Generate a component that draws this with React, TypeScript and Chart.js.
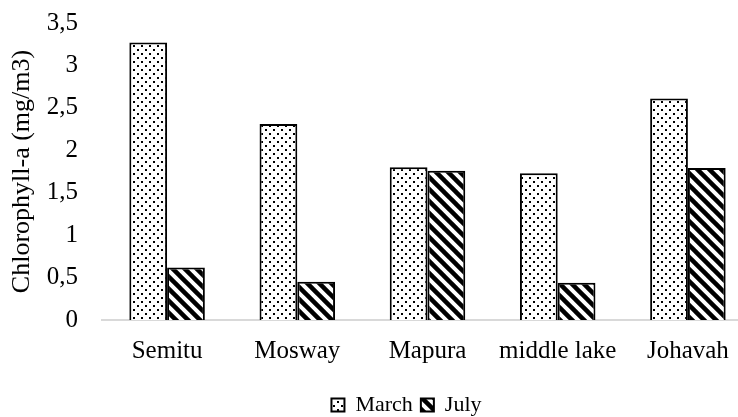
import React, { useEffect, useRef } from "react";
import { Chart, registerables } from "chart.js";

Chart.register(...registerables);

const categories = ["Semitu", "Mosway", "Mapura", "middle lake", "Johavah"];
const marchValues = [3.27, 2.31, 1.8, 1.73, 2.61];
const julyValues = [0.62, 0.45, 1.76, 0.44, 1.79];
const seriesNames = ["March", "July"];
const yTicksMin = 0;
const yTicksMax = 3.5;
const yTickStep = 0.5;
const yTitle = "Chlorophyll-a (mg/m3)";

const FONT = "'Liberation Serif', 'Times New Roman', serif";

function makeDots(ctx: CanvasRenderingContext2D) {
  const t = document.createElement("canvas");
  t.width = 8;
  t.height = 8;
  const c = t.getContext("2d")!;
  c.fillStyle = "#ffffff";
  c.fillRect(0, 0, 8, 8);
  c.fillStyle = "#000000";
  c.fillRect(1, 1, 2, 2);
  c.fillRect(5, 5, 2, 2);
  return ctx.createPattern(t, "repeat")!;
}

function makeStripes(ctx: CanvasRenderingContext2D) {
  const s = 12;
  const t = document.createElement("canvas");
  t.width = s;
  t.height = s;
  const c = t.getContext("2d")!;
  c.fillStyle = "#ffffff";
  c.fillRect(0, 0, s, s);
  c.strokeStyle = "#000000";
  c.lineWidth = 4.5;
  for (const off of [-s, 0, s]) {
    c.beginPath();
    c.moveTo(-2 + off, -2);
    c.lineTo(s + 2 + off, s + 2);
    c.stroke();
  }
  return ctx.createPattern(t, "repeat")!;
}

const PLOT_LEFT = 102;
const LEGEND_SHIFT = 30;

const legendShift = {
  id: "legendShift",
  afterLayout(chart: any) {
    const l = chart.legend;
    if (l) {
      l.left += LEGEND_SHIFT;
      l.right += LEGEND_SHIFT;
    }
  },
};

export default function App() {
  const ref = useRef<HTMLCanvasElement | null>(null);

  useEffect(() => {
    const canvas = ref.current!;
    const ctx = canvas.getContext("2d")!;
    const dots = makeDots(ctx);
    const stripes = makeStripes(ctx);
    const chart = new Chart(canvas, {
      type: "bar",
      data: {
        labels: categories,
        datasets: [
          {
            label: seriesNames[0],
            data: marchValues,
            backgroundColor: dots,
            borderColor: "#000000",
            borderWidth: 2,
          },
          {
            label: seriesNames[1],
            data: julyValues,
            backgroundColor: stripes,
            borderColor: "#000000",
            borderWidth: 2,
          },
        ],
      },
      plugins: [legendShift],
      options: {
        responsive: false,
        animation: false,
        devicePixelRatio: 1,
        layout: { padding: { left: 0, right: 7, top: 23, bottom: 0 } },
        datasets: {
          bar: { categoryPercentage: 0.58, barPercentage: 1 },
        },
        plugins: {
          tooltip: { enabled: false },
          legend: {
            position: "bottom",
            labels: {
              color: "#000000",
              font: { family: FONT, size: 22 },
              boxWidth: 13,
              boxHeight: 13,
              padding: 8,
            },
          },
        },
        scales: {
          x: {
            grid: { display: false, drawTicks: false },
            border: { display: true, color: "#d9d9d9", width: 2 },
            ticks: {
              color: "#000000",
              font: { family: FONT, size: 25 },
              padding: 16,
              maxRotation: 0,
              autoSkip: false,
            },
            afterFit: (scale: any) => {
              scale.height = 66;
            },
          },
          y: {
            min: yTicksMin,
            max: yTicksMax,
            grid: { display: false, drawTicks: true, tickLength: 24 },
            border: { display: false },
            ticks: {
              stepSize: yTickStep,
              color: "#000000",
              font: { family: FONT, size: 25 },
              padding: 0,
              callback: (v: any) => String(v).replace(".", ","),
            },
            title: {
              display: true,
              text: yTitle,
              color: "#000000",
              font: { family: FONT, size: 26 },
              padding: { top: 7, bottom: 4 },
            },
            afterFit: (scale: any) => {
              scale.width = PLOT_LEFT;
            },
          },
        },
      },
    });
    return () => chart.destroy();
  }, []);

  return (
    <div
      style={{
        position: "fixed",
        left: 0,
        top: 0,
        width: 738,
        height: 417,
        overflow: "hidden",
        background: "#ffffff",
      }}
    >
      <canvas ref={ref} width={760} height={426} style={{ display: "block" }} />
    </div>
  );
}
